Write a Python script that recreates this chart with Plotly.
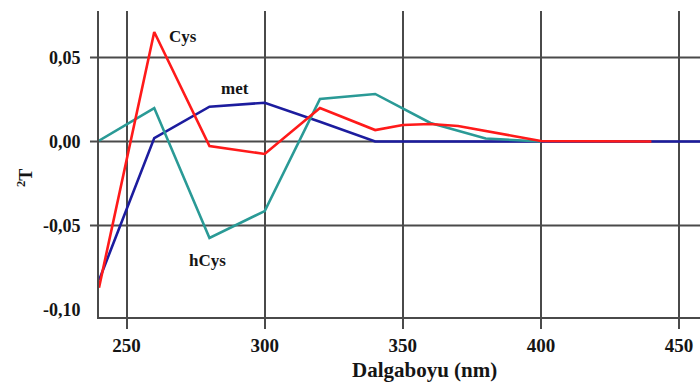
import plotly.graph_objects as go

# Wavelength (nm) and second-derivative values
x_met = [240, 260, 280, 300, 320, 340, 360, 380, 400, 420, 440, 460]
y_met = [-0.0826, 0.0020, 0.0207, 0.0231, 0.0118, 0.0, 0.0, 0.0, 0.0, 0.0, 0.0, 0.0]

x_hcys = [240, 260, 280, 300, 320, 340, 360, 380, 400]
y_hcys = [0.0005, 0.0199, -0.0574, -0.0414, 0.0253, 0.0283, 0.0110, 0.0018, 0.0]

x_cys = [240, 260, 280, 300, 320, 340, 350, 360, 370, 380, 390, 400, 420, 440]
y_cys = [-0.0870, 0.0652, -0.0027, -0.0074, 0.0199, 0.0068, 0.0098, 0.0104, 0.0092, 0.0064, 0.0033, 0.0003, 0.0, 0.0]

x_ticks = [250, 300, 350, 400, 450]
y_ticks = [0.05, 0.0, -0.05, -0.10]
y_ticktext = ["0,05", "0,00", "-0,05", "-0,10"]
y_grid = [0.05, 0.0, -0.05]

labels = ["Cys", "met", "hCys"]
label_x = [270.4, 289.1, 279.4]
label_y = [0.0628, 0.0318, -0.0711]

FONT = "Liberation Serif"
GRID = "#4a4a4a"
TEXT = "#151515"

fig = go.Figure()
fig.add_trace(go.Scatter(x=x_met, y=y_met, mode="lines", line=dict(color="#1c1c9e", width=2.6), name="met"))
fig.add_trace(go.Scatter(x=x_hcys, y=y_hcys, mode="lines", line=dict(color="#2a9a96", width=2.6), name="hCys"))
fig.add_trace(go.Scatter(x=x_cys, y=y_cys, mode="lines", line=dict(color="#ff1a1a", width=2.6), name="Cys"))

shapes = []
for g in y_grid:
    shapes.append(dict(type="line", xref="paper", yref="y", x0=-0.015, x1=1, y0=g, y1=g,
                       line=dict(color=GRID, width=2), layer="below"))

annotations = []
for t, ax, ay in zip(labels, label_x, label_y):
    annotations.append(dict(x=ax, y=ay, xref="x", yref="y", text=t, showarrow=False,
                            font=dict(family=FONT, size=17, color=TEXT, weight="bold")))
annotations.append(dict(x=0.5424, y=-0.1732, xref="paper", yref="paper", text="Dalgaboyu (nm)",
                        showarrow=False, xanchor="center", yanchor="middle",
                        font=dict(family=FONT, size=21, color=TEXT, weight="bold")))
annotations.append(dict(x=-0.1231, y=0.454, xref="paper", yref="paper", text="<sup>2</sup>T",
                        showarrow=False, textangle=-90, xanchor="center", yanchor="middle",
                        font=dict(family=FONT, size=18, color=TEXT, weight="bold")))

fig.update_layout(
    width=700, height=387,
    margin=dict(l=99, r=0, t=11, b=70),
    paper_bgcolor="white", plot_bgcolor="white",
    showlegend=False,
    shapes=shapes,
    annotations=annotations,
    xaxis=dict(range=[240, 457.6], tickvals=x_ticks, ticktext=[str(v) for v in x_ticks],
               showgrid=True, gridcolor=GRID, gridwidth=2, zeroline=False,
               showline=True, linecolor=GRID, linewidth=2,
               ticks="outside", ticklen=10, tickcolor=GRID, tickwidth=2,
               tickfont=dict(family=FONT, size=19, color=TEXT, weight="bold")),
    yaxis=dict(range=[-0.10446, 0.07768], tickvals=y_ticks, ticktext=y_ticktext,
               showgrid=False, zeroline=False,
               showline=True, linecolor=GRID, linewidth=2,
               ticks="outside", ticklen=9, tickcolor="rgba(0,0,0,0)",
               ticklabelstandoff=4,
               tickfont=dict(family=FONT, size=18, color=TEXT, weight="bold")),
)

fig.write_html("out.html")
